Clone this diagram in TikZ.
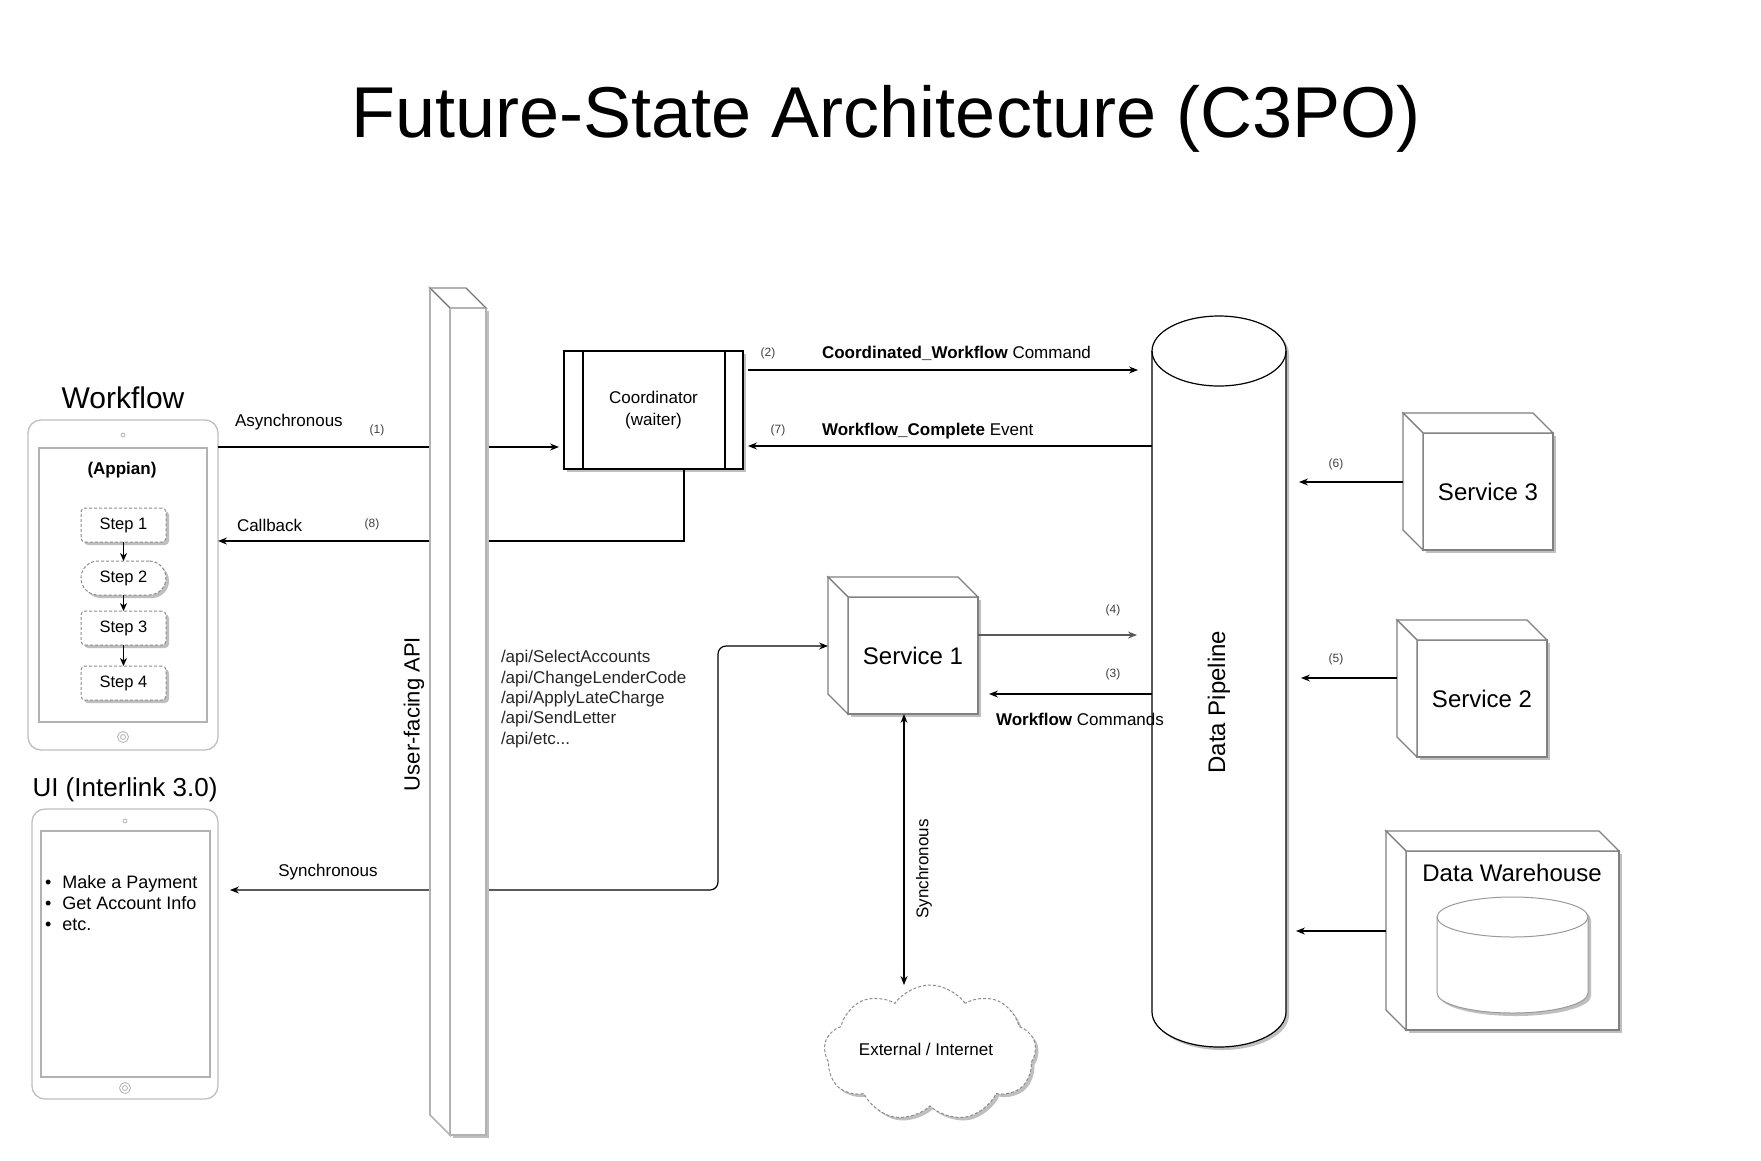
\documentclass[tikz,border=0pt]{standalone}
\usepackage{fontspec}
\setmainfont{Liberation Sans}
\usetikzlibrary{arrows.meta,shapes.symbols,shadows,calc}
\newcommand\drawcube[1]{%
  \draw[cubeline] (#1.north west) -- ++(-20,-20) -- ($(#1.north east)+(-20,-20)$) -- (#1.north east) -- cycle;
  \draw[cubeline] (#1.north west) -- ++(-20,-20) -- ($(#1.south west)+(-20,-20)$) -- (#1.south west) -- cycle;
}
\begin{document}
\begin{tikzpicture}[x=1pt,y=-1pt,
  every node/.style={inner sep=0pt,outer sep=0pt},
  f12/.style={font=\fontsize{12}{14}\selectfont, text=black!75},
  f17/.style={font=\fontsize{17}{20}\selectfont},
  f24/.style={font=\fontsize{24}{28}\selectfont},
  tip/.style={-{Stealth[length=9pt,width=7pt,inset=3pt]}},
  tips/.style={{Stealth[length=9pt,width=7pt,inset=3pt]}-{Stealth[length=9pt,width=7pt,inset=3pt]}},
  conn/.style={draw=black,line width=1.2pt},
  steparr/.style={draw=black,line width=1pt,-{Stealth[length=8pt,width=7pt,inset=2.5pt]}},
  shd/.style={drop shadow={shadow xshift=3pt,shadow yshift=-3pt,fill=black!25,opacity=1}},
  tabframe/.style={draw=black!25,line width=1.3pt,rounded corners=13pt,fill=white},
  tabscreen/.style={draw=black!30,line width=1.3pt},
  tabdot/.style={circle,draw=black!30,line width=0.8pt},
  stepbox/.style={draw=black!45,dash pattern=on 3pt off 2pt,line width=1pt,fill=white,rounded corners=4pt,minimum width=85pt,minimum height=34pt,shd,font=\fontsize{16.5}{19}\selectfont},
  cubeface/.style={draw=black!50,line width=1.2pt,fill=white,minimum width=130pt,minimum height=117pt,shd},
  cubeline/.style={draw=black!50,line width=1.2pt,fill=white},
  apiline/.style={draw=black!30,line width=1.6pt,fill=white},
]
\fill[white] (0,0) rectangle (1761,1160);
\useasboundingbox (0,0) rectangle (1761,1160);

% title
\node[font=\fontsize{72}{86}\selectfont, anchor=base] (title) at (886,137) {Future-State Architecture (C3PO)};

% Workflow tablet
\node[font=\fontsize{30}{36}\selectfont] (wftitle) at (123,398) {Workflow};
\node[tabframe, minimum width=190pt, minimum height=330pt] (wf) at (123,585) {};
\node[tabscreen, minimum width=168pt, minimum height=274pt] (wfscr) at (123,585) {};
\node[tabdot, minimum size=4pt] (wfcam) at (123,435) {};
\node[tabdot, minimum size=11pt] (wfhome) at (123,737) {};
\node[tabdot, minimum size=5pt] (wfhomei) at (123,737) {};
\node[font=\bfseries\fontsize{17}{20}\selectfont] (appian) at (122,470) {(Appian)};
\node[stepbox] (s1) at (123.5,525) {Step 1};
\node[stepbox, rounded corners=17pt] (s2) at (123.5,578) {Step 2};
\node[stepbox] (s3) at (123.5,628) {Step 3};
\node[stepbox] (s4) at (123.5,683) {Step 4};
\draw[steparr] (s1.south) -- (s2.north);
\draw[steparr] (s2.south) -- (s3.north);
\draw[steparr] (s3.south) -- (s4.north);

% UI tablet
\node[font=\fontsize{26}{31}\selectfont] (uititle) at (125,790) {UI (Interlink 3.0)};
\node[tabframe, minimum width=186pt, minimum height=290pt] (ui) at (125,954) {};
\node[tabscreen, minimum width=169pt, minimum height=246pt] (uiscr) at (125.5,954) {};
\node[tabdot, minimum size=4pt] (uicam) at (125,821) {};
\node[tabdot, minimum size=11pt] (uihome) at (125,1088) {};
\node[tabdot, minimum size=5pt] (uihomei) at (125,1088) {};
\node[anchor=west, font=\fontsize{18}{21}\selectfont] (uilist) at (45,905)
  {\begin{tabular}{@{}l@{\hspace{11pt}}l@{}}\textbullet & Make a Payment\\ \textbullet & Get Account Info\\ \textbullet & etc.\end{tabular}};

% Coordinator
\node[draw=black, line width=1.2pt, fill=white, minimum width=179pt, minimum height=118pt, shd, align=center, font=\fontsize{17}{22}\selectfont] (coord) at (653.5,410) {Coordinator\\(waiter)};
\draw[black, line width=1.2pt] ([xshift=19pt]coord.north west) -- ([xshift=19pt]coord.south west);
\draw[black, line width=1.2pt] ([xshift=-18pt]coord.north east) -- ([xshift=-18pt]coord.south east);

% Data pipeline cylinder
\path[fill=white, shd] (1152,351) .. controls (1152,331.7) and (1182,316) .. (1219,316) .. controls (1256,316) and (1286,331.7) .. (1286,351)
  -- (1286,1012) .. controls (1286,1031.3) and (1256,1047) .. (1219,1047) .. controls (1182,1047) and (1152,1031.3) .. (1152,1012) -- cycle;
\draw[black, line width=1.2pt] (1152,351) .. controls (1152,331.7) and (1182,316) .. (1219,316) .. controls (1256,316) and (1286,331.7) .. (1286,351)
  -- (1286,1012) .. controls (1286,1031.3) and (1256,1047) .. (1219,1047) .. controls (1182,1047) and (1152,1031.3) .. (1152,1012) -- cycle;
\draw[black, line width=1.2pt] (1152,351) .. controls (1152,370.3) and (1182,386) .. (1219,386) .. controls (1256,386) and (1286,370.3) .. (1286,351);
\node[minimum width=134pt, minimum height=731pt] (pipe) at (1219,681.5) {};
\node[f24, rotate=90] (pipelabel) at (1219,702) {Data Pipeline};

% Services
\node[cubeface, f24] (sv3) at (1488,491.5) {Service 3}; \drawcube{sv3}
\node[cubeface, f24] (sv2) at (1482,698.5) {Service 2}; \drawcube{sv2}
\node[cubeface, f24] (sv1) at (913,655.5) {Service 1}; \drawcube{sv1}
\node[cubeface, minimum width=213pt, minimum height=179pt] (dw) at (1512.5,940.5) {}; \drawcube{dw}
\node[f24] (dwlabel) at (1512,873) {Data Warehouse};
\path[fill=white, shd, draw=black!40, line width=1pt] (1437,917) .. controls (1437,906) and (1470.8,897) .. (1512.5,897) .. controls (1554.2,897) and (1588,906) .. (1588,917)
  -- (1588,993) .. controls (1588,1004) and (1554.2,1013) .. (1512.5,1013) .. controls (1470.8,1013) and (1437,1004) .. (1437,993) -- cycle;
\draw[black!40, line width=1pt] (1437,917) .. controls (1437,928) and (1470.8,937) .. (1512.5,937) .. controls (1554.2,937) and (1588,928) .. (1588,917);

% Cloud
\node[cloud, cloud puffs=9, cloud puff arc=110, aspect=1.55, draw=black!45, dash pattern=on 3pt off 2pt, line width=1pt, fill=white, shd, minimum width=212pt, minimum height=136pt] (cloud) at (930,1053) {};
\node[f17] (cloudlabel) at (926,1049) {External / Internet};

% Connectors
\coordinate (c1) at ([yshift=-37pt]coord.west);
\draw[conn, tip, shorten >=5pt] (wf.east |- c1) -- (c1);
\coordinate (c8) at ([xshift=30.5pt]coord.south);
\draw[conn, tip] (c8) |- (wf.east |- 0,541);
\coordinate (c2) at ([xshift=5pt,yshift=40pt]coord.east);
\draw[conn, tip, shorten >=14pt] (c2) -- (pipe.west |- c2);
\coordinate (c7) at ([xshift=5pt,yshift=-36pt]coord.east);
\draw[conn, tip] (pipe.west |- c7) -- (c7);
\coordinate (c6) at ([xshift=-20pt,yshift=9.5pt]sv3.west);
\draw[conn, tip, shorten >=13pt] (c6) -- (pipe.east |- c6);
\coordinate (c5) at ([xshift=-20pt,yshift=20.5pt]sv2.west);
\draw[conn, tip, shorten >=15pt] (c5) -- (pipe.east |- c5);
\coordinate (cdw) at ([xshift=-20pt,yshift=9.5pt]dw.west);
\draw[conn, tip, shorten >=10pt] (cdw) -- (pipe.east |- cdw);
\coordinate (c4) at ([yshift=20.5pt]sv1.east);
\draw[conn, draw=black!65, tip, shorten >=15pt] (c4) -- (pipe.west |- c4);
\coordinate (c3) at ([yshift=-38.5pt]sv1.east);
\draw[conn, tip, shorten >=11pt] (pipe.west |- c3) -- (c3);
\coordinate (cs1) at ([xshift=-20pt,yshift=9.5pt]sv1.west);
\draw[conn, tips, rounded corners=8pt, shorten <=12pt] (ui.east |- 0,890) -- (718,890) -- (718,646) -- (cs1);
\coordinate (cv) at ([xshift=-9pt]sv1.south);
\draw[conn, tips] (cv) -- (cv |- cloud.north);

% Labels
\node[f17, anchor=west] (lasync) at (235,422) {Asynchronous};
\node[f12] (l1) at (377,430) {(1)};
\node[f17, anchor=west] (lcb) at (237,525) {Callback};
\node[f12] (l8) at (372,524) {(8)};
\node[f17] (lsync) at (328,872) {Synchronous};
\node[f12] (l2) at (768,353) {(2)};
\node[f12] (l7) at (778,430) {(7)};
\node[f17, anchor=west] (lcw) at (822,353) {\textbf{Coordinated\_Workflow} Command};
\node[f17, anchor=west] (lwc) at (822,431) {\textbf{Workflow\_Complete} Event};
\node[f12] (l6) at (1336,464) {(6)};
\node[f12] (l5) at (1336,659) {(5)};
\node[f12] (l4) at (1113,610) {(4)};
\node[f12] (l3) at (1113,674) {(3)};
\node[f17, anchor=west] (lwcmd) at (996,719) {\textbf{Workflow} Commands};
\node[f17, rotate=90] (lvsync) at (924,869) {Synchronous};
\node[anchor=west, align=left, font=\fontsize{17}{20.3}\selectfont, text=black!85] (apilist) at (501,699)
  {/api/SelectAccounts\\/api/ChangeLenderCode\\/api/ApplyLateCharge\\/api/SendLetter\\/api/etc...};

% User-facing API column
\node[apiline, shd, minimum width=36pt, minimum height=827pt] (api) at (468,721.5) {};
\draw[apiline] (api.north west) -- ++(-20,-20) -- ($(api.north east)+(-20,-20)$) -- (api.north east) -- cycle;
\draw[apiline] (api.north west) -- ++(-20,-20) -- ($(api.south west)+(-20,-20)$) -- (api.south west) -- cycle;
\draw[black!60, line width=0.6pt] (api.north west) -- ++(-20,-20);
\draw[black!60, line width=0.6pt] (api.north east) -- ++(-20,-20);
\node[font=\fontsize{22}{26}\selectfont, rotate=90] (apilabel) at (414,714) {User-facing API};
\end{tikzpicture}
\end{document}
